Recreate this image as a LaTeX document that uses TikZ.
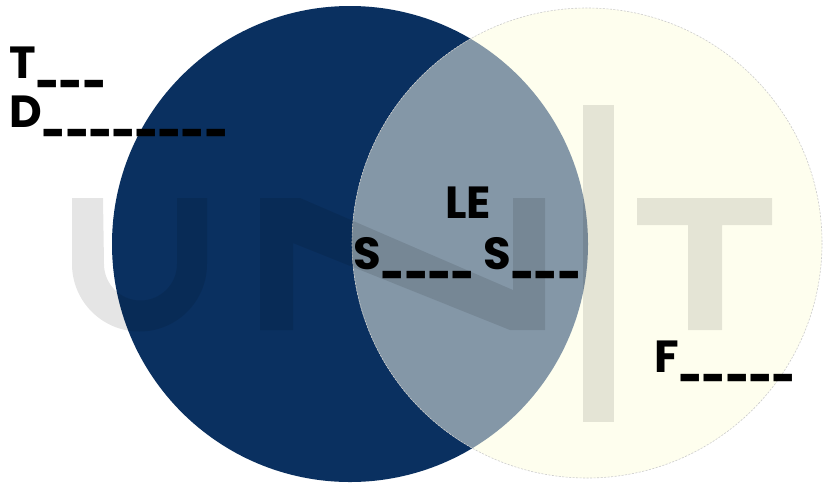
\documentclass[tikz,border=0pt]{standalone}
\usepackage{fontspec}
\usepackage{graphicx}
\setmainfont{Poppins}
\definecolor{navy}{RGB}{10,48,96}
\definecolor{cream}{RGB}{254,254,238}
\definecolor{mix}{RGB}{132,151,167}
\newcommand{\usc}{\scalebox{0.66}[1]{\_}}
\tikzset{
  lbl/.style={anchor=base west, inner sep=0pt, font=\fontsize{45}{45}\selectfont\bfseries, text=black},
  wm/.style={fill=black, fill opacity=0.1, draw=none}
}
\begin{document}
\begin{tikzpicture}[x=1pt,y=-1pt]
\useasboundingbox (0,0) rectangle (824,483);
\fill[white] (0,0) rectangle (824,483);
% circles
\fill[navy] (350,244) circle[radius=238];
\fill[cream] (587,243) circle[radius=235];
\begin{scope}
  \clip (350,244) circle[radius=238];
  \fill[mix] (587,243) circle[radius=235];
\end{scope}
\draw[black!20, line width=0.6pt, dash pattern=on 2pt off 1.5pt] (587,243) circle[radius=235];
% watermark UNT
\fill[wm] (72,198) -- (72,264) arc[start angle=180,end angle=0,radius=67.5]
  -- (207,198) -- (177,198) -- (177,264) arc[start angle=0,end angle=180,radius=36.5]
  -- (103,198) -- cycle;
\fill[wm] (260,198) -- (300,198) -- (513,290) -- (513,198) -- (545,198) -- (545,330)
  -- (510,330) -- (293,243) -- (293,330) -- (260,330) -- cycle;
\fill[wm] (583,105) rectangle (614,422);
\fill[wm] (637,198) -- (772,198) -- (772,225) -- (722,225) -- (722,330) -- (688,330) -- (688,225) -- (637,225) -- cycle;
% labels
\node[lbl] (t1) at (9,78) {T\usc\usc\usc};
\node[lbl] (d1) at (9,127) {D\usc\usc\usc\usc\usc\usc\usc\usc};
\node[lbl] (le) at (445,218) {LE};
\node[lbl] (ss) at (353,269) {S\usc\usc\usc\usc\ S\usc\usc\usc};
\node[lbl] (f1) at (654,372) {F\usc\usc\usc\usc\usc};
\end{tikzpicture}
\end{document}
